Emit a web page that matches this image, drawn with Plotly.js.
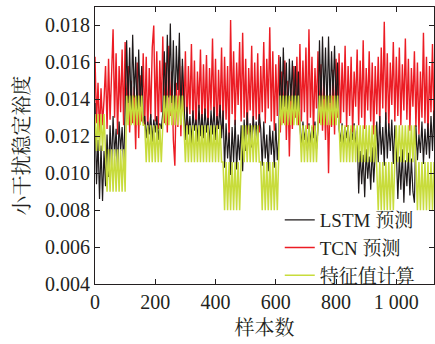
<!DOCTYPE html>
<html>
<head>
<meta charset="utf-8">
<script src="https://cdn.plot.ly/plotly-3.0.1.min.js"></script>
<style>
html,body{margin:0;padding:0;background:#fff;}
#chart{width:435px;height:344px;}
</style>
</head>
<body>
<div id="chart"></div>
<script>
// sample index (every 5th sample)
const samples = [];
for (let i = 0; i <= 1125; i += 5) samples.push(i);

const seriesNames = ["LSTM 预测", "TCN 预测", "特征值计算"];

// LSTM prediction
const lstm = [
  0.0138,0.0094,0.0118,0.0086,0.0115,0.0085,0.0112,
  0.0093,0.0121,0.0098,0.0126,0.0104,0.0131,0.0109,0.0124,0.0102,0.0128,0.0112,0.0125,0.0105,0.0133,
  0.0172,0.0138,0.0168,0.0132,0.0175,0.0141,0.0163,0.0129,0.0167,0.0136,0.0158,0.0127,
  0.0131,0.0119,0.0128,0.0121,0.0132,0.0117,0.0129,0.0122,0.0131,0.0118,0.0127,0.0124,0.0133,
  0.0166,0.0135,0.0175,0.0141,0.0181,0.0138,0.0172,0.0133,0.0169,0.0145,0.0176,0.0131,0.0162,
  0.0133,0.0118,0.0136,0.0121,0.0131,0.0116,0.0134,0.0123,0.0129,0.0117,0.0137,0.0120,0.0132,
  0.0119,0.0135,0.0122,0.0130,0.0115,0.0134,0.0121,0.0136,0.0118,0.0131,0.0124,0.0137,0.0119,
  0.0134,0.0103,0.0127,0.0108,0.0122,0.0099,0.0125,0.0106,0.0129,0.0102,0.0121,0.0107,0.0126,
  0.0101,0.0129,0.0112,0.0133,0.0118,0.0127,0.0114,0.0131,0.0120,0.0128,0.0116,0.0132,
  0.0124,0.0104,0.0128,0.0108,0.0121,0.0101,0.0126,0.0110,0.0123,0.0103,0.0127,0.0107,0.0120,
  0.0163,0.0131,0.0168,0.0136,0.0160,0.0128,0.0162,0.0139,0.0161,0.0133,0.0158,0.0130,0.0155,
  0.0126,0.0114,0.0128,0.0118,0.0124,0.0112,0.0127,0.0116,0.0125,0.0119,0.0128,0.0113,0.0124,
  0.0172,0.0136,0.0174,0.0140,0.0168,0.0133,0.0174,0.0138,0.0166,0.0142,0.0169,0.0135,0.0160,
  0.0124,0.0117,0.0127,0.0114,0.0125,0.0119,0.0126,0.0113,0.0124,0.0118,0.0127,0.0115,0.0123,
  0.0089,0.0112,0.0094,0.0110,0.0087,0.0113,0.0097,0.0109,0.0091,0.0114,0.0095,0.0111,
  0.0128,0.0106,0.0131,0.0110,0.0125,0.0104,0.0133,0.0108,0.0127,0.0112,0.0129,0.0105,0.0126,
  0.0112,0.0086,0.0109,0.0091,0.0113,0.0084,0.0107,0.0093,0.0111,0.0088,0.0108,0.0090,0.0084,
  0.0126,0.0107,0.0121,0.0111,0.0128,0.0105,0.0124,0.0110,0.0127,0.0108,0.0131,0.0112,0.0134
];

// TCN prediction
const tcn = [
  0.0163,0.0127,0.0149,0.0121,0.0146,0.0126,0.0140,
  0.0158,0.0124,0.0162,0.0129,0.0152,0.0178,0.0130,0.0165,0.0121,0.0158,0.0133,0.0167,0.0126,0.0171,
  0.0131,0.0158,0.0122,0.0150,0.0127,0.0147,0.0113,0.0160,0.0119,0.0153,0.0128,0.0165,
  0.0126,0.0163,0.0121,0.0157,0.0130,0.0168,0.0180,0.0128,0.0166,0.0124,0.0161,0.0133,0.0174,
  0.0127,0.0160,0.0122,0.0169,0.0131,0.0155,0.0118,0.0104,0.0149,0.0125,0.0163,0.0120,0.0158,
  0.0129,0.0166,0.0124,0.0158,0.0132,0.0170,0.0127,0.0161,0.0121,0.0155,0.0135,0.0167,0.0126,
  0.0159,0.0130,0.0164,0.0123,0.0157,0.0134,0.0173,0.0128,0.0162,0.0119,0.0156,0.0131,0.0168,
  0.0124,0.0163,0.0129,0.0158,0.0115,0.0183,0.0132,0.0166,0.0126,0.0160,0.0137,0.0171,0.0128,
  0.0176,0.0130,0.0162,0.0121,0.0157,0.0134,0.0169,0.0125,0.0160,0.0129,0.0165,0.0122,
  0.0158,0.0133,0.0171,0.0127,0.0162,0.0135,0.0179,0.0128,0.0166,0.0123,0.0159,0.0131,0.0164,
  0.0122,0.0155,0.0127,0.0161,0.0118,0.0150,0.0109,0.0146,0.0124,0.0158,0.0130,0.0163,0.0126,
  0.0170,0.0128,0.0161,0.0133,0.0168,0.0124,0.0178,0.0130,0.0163,0.0121,0.0157,0.0135,0.0166,
  0.0127,0.0159,0.0123,0.0152,0.0118,0.0148,0.0100,0.0143,0.0125,0.0156,0.0121,0.0162,0.0130,
  0.0165,0.0127,0.0160,0.0133,0.0169,0.0125,0.0158,0.0131,0.0163,0.0122,0.0155,0.0136,0.0167,
  0.0126,0.0161,0.0130,0.0172,0.0124,0.0157,0.0134,0.0166,0.0128,0.0160,0.0121,0.0158,
  0.0132,0.0163,0.0127,0.0168,0.0135,0.0182,0.0129,0.0165,0.0124,0.0160,0.0137,0.0171,0.0128,
  0.0163,0.0131,0.0168,0.0126,0.0159,0.0134,0.0173,0.0129,0.0162,0.0123,0.0157,0.0136,0.0166,
  0.0125,0.0160,0.0121,0.0155,0.0130,0.0176,0.0127,0.0163,0.0119,0.0158,0.0133,0.0170,0.0126
];

// Feature-value calculation (alternating between two levels in each block)
const feature = [
  0.0132,0.0112,0.0132,0.0112,0.0132,0.0112,0.0132,
  0.0113,0.0090,0.0113,0.0090,0.0113,0.0090,0.0113,0.0090,0.0113,0.0090,0.0113,0.0090,0.0113,0.0090,
  0.0142,0.0126,0.0142,0.0126,0.0142,0.0126,0.0142,0.0126,0.0142,0.0126,0.0142,0.0126,
  0.0126,0.0106,0.0126,0.0106,0.0126,0.0106,0.0126,0.0106,0.0126,0.0106,0.0126,0.0106,0.0126,
  0.0142,0.0126,0.0142,0.0126,0.0142,0.0126,0.0142,0.0126,0.0142,0.0126,0.0142,0.0126,0.0142,
  0.0126,0.0106,0.0126,0.0106,0.0126,0.0106,0.0126,0.0106,0.0126,0.0106,0.0126,0.0106,0.0126,
  0.0106,0.0126,0.0106,0.0126,0.0106,0.0126,0.0106,0.0126,0.0106,0.0126,0.0106,0.0126,0.0106,
  0.0106,0.0080,0.0106,0.0080,0.0106,0.0080,0.0106,0.0080,0.0106,0.0080,0.0106,0.0080,0.0106,
  0.0126,0.0106,0.0126,0.0106,0.0126,0.0106,0.0126,0.0106,0.0126,0.0106,0.0126,0.0106,
  0.0106,0.0080,0.0106,0.0080,0.0106,0.0080,0.0106,0.0080,0.0106,0.0080,0.0106,0.0080,0.0106,
  0.0142,0.0126,0.0142,0.0126,0.0142,0.0126,0.0142,0.0126,0.0142,0.0126,0.0142,0.0126,0.0142,
  0.0126,0.0106,0.0126,0.0106,0.0126,0.0106,0.0126,0.0106,0.0126,0.0106,0.0126,0.0106,0.0126,
  0.0142,0.0126,0.0142,0.0126,0.0142,0.0126,0.0142,0.0126,0.0142,0.0126,0.0142,0.0126,0.0142,
  0.0126,0.0106,0.0126,0.0106,0.0126,0.0106,0.0126,0.0106,0.0126,0.0106,0.0126,0.0106,0.0126,
  0.0106,0.0126,0.0106,0.0126,0.0106,0.0126,0.0106,0.0126,0.0106,0.0126,0.0106,0.0126,
  0.0106,0.0080,0.0106,0.0080,0.0106,0.0080,0.0106,0.0080,0.0106,0.0080,0.0106,0.0080,0.0106,
  0.0126,0.0106,0.0126,0.0106,0.0126,0.0106,0.0126,0.0106,0.0126,0.0106,0.0126,0.0106,0.0126,
  0.0106,0.0080,0.0106,0.0080,0.0106,0.0080,0.0106,0.0080,0.0106,0.0080,0.0106,0.0080,0.0106
];

const xTickVals = [0, 200, 400, 600, 800, 1000];
const xTickText = ["0", "200", "400", "600", "800", "1 000"];
const yTickVals = [0.004, 0.006, 0.008, 0.010, 0.012, 0.014, 0.016, 0.018];

const FONT = "'Liberation Serif','Times New Roman','Noto Serif CJK SC','Noto Sans CJK SC',serif";
const TXT = "#231f20";

// drawing order: TCN underneath, LSTM over it, feature values on top
const traces = [
  {x: samples, y: tcn, name: seriesNames[1], type: "scatter", mode: "lines", legendrank: 2,
   line: {color: "#ec1c24", width: 1.4}},
  {x: samples, y: lstm, name: seriesNames[0], type: "scatter", mode: "lines", legendrank: 1,
   line: {color: "#1f1a1b", width: 1.2}},
  {x: samples, y: feature, name: seriesNames[2], type: "scatter", mode: "lines", legendrank: 3,
   line: {color: "#c8dc3c", width: 1.5}}
];

const axisCommon = {
  showline: true, linecolor: "#231f20", linewidth: 1, mirror: "ticks",
  ticks: "inside", ticklen: 5, tickwidth: 1, tickcolor: "#231f20",
  showgrid: false, zeroline: false,
  tickfont: {family: FONT, size: 20, color: TXT}
};

const layout = {
  width: 435, height: 344,
  margin: {l: 95, r: 1, t: 7, b: 60},
  paper_bgcolor: "#fff", plot_bgcolor: "#fff",
  showlegend: true,
  legend: {
    x: 0.545, xanchor: "left", y: 0.13, yanchor: "middle",
    bgcolor: "rgba(0,0,0,0)", borderwidth: 0,
    font: {family: FONT, size: 19, color: TXT},
    itemwidth: 30, tracegroupgap: 0, traceorder: "normal"
  },
  xaxis: Object.assign({}, axisCommon, {
    range: [0, 1125], tickvals: xTickVals, ticktext: xTickText,
    title: {text: "样本数", font: {family: FONT, size: 20, color: TXT}, standoff: 8}
  }),
  yaxis: Object.assign({}, axisCommon, {
    range: [0.004, 0.019], tickvals: yTickVals, tickformat: ".3f",
    title: {text: "小干扰稳定裕度", font: {family: FONT, size: 20, color: TXT}, standoff: 10}
  })
};

Plotly.newPlot("chart", traces, layout, {displayModeBar: false, staticPlot: true});
</script>
</body>
</html>
